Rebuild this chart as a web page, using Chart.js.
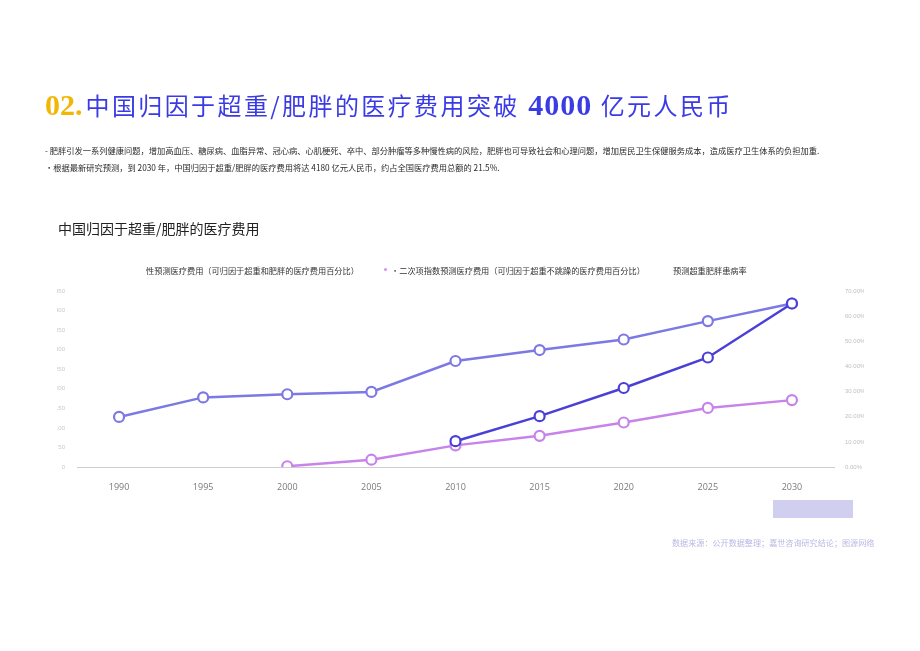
<!DOCTYPE html>
<html>
<head>
<meta charset="utf-8">
<script src="https://cdn.jsdelivr.net/npm/chart.js@4.4.0/dist/chart.umd.min.js"></script>
<style>
  html, body { margin: 0; padding: 0; background: #ffffff; }
  body { width: 920px; height: 651px; position: relative; overflow: hidden; font-family: "Noto Sans CJK SC", "Noto Sans", sans-serif; }
  #c { position: absolute; left: 0; top: 0; }
  .t { position: absolute; white-space: nowrap; }
  #title { left: 45px; top: 88px; height: 34px; line-height: 34px; }
  #title .num { font-family: "Liberation Serif", serif; font-weight: bold; color: #f2b705; font-size: 30px; margin-right: 3px; }
  #title .cn { color: #3b3be6; font-size: 24px; letter-spacing: 2.4px; }
  #title .big { font-family: "Liberation Serif", serif; font-weight: bold; color: #3b3be6; font-size: 30px; letter-spacing: 1px; }
  .sub { font-size: 8.25px; color: #2a2a2a; left: 45px; }
  #ctitle { left: 58px; top: 218px; font-size: 14px; color: #222; }
  .lg { font-size: 8.2px; color: #333; top: 264px; }
  #src { left: 672px; top: 537px; font-size: 8.1px; color: #b9b9e4; }
  #box { position: absolute; left: 773px; top: 500px; width: 80px; height: 18px; background: #d0cff0; }
  #dot { position: absolute; left: 384px; top: 268px; width: 3px; height: 3px; background: #d58ef0; border-radius: 50%; }
</style>
</head>
<body>
<canvas id="c" width="920" height="651"></canvas>
<div class="t" id="title"><span class="num">02.</span><span class="cn">中国归因于超重/肥胖的医疗费用突破</span><span class="big"> 4000 </span><span class="cn">亿元人民币</span></div>
<div class="t sub" style="top:144px;">- 肥胖引发一系列健康问题，增加高血压、糖尿病、血脂异常、冠心病、心肌梗死、卒中、部分肿瘤等多种慢性病的风险，肥胖也可导致社会和心理问题，增加居民卫生保健服务成本，造成医疗卫生体系的负担加重.</div>
<div class="t sub" style="top:161px;">•根据最新研究预测，到 2030 年，中国归因于超重/肥胖的医疗费用将达 4180 亿元人民币，约占全国医疗费用总额的 21.5%.</div>
<div class="t" id="ctitle">中国归因于超重/肥胖的医疗费用</div>
<div class="t lg" style="left:146px;">性预测医疗费用（可归因于超重和肥胖的医疗费用百分比）</div>
<div id="dot"></div>
<div class="t lg" style="left:391px;">•二次项指数预测医疗费用（可归因于超重不跳躁的医疗费用百分比）</div>
<div class="t lg" style="left:673px;">预测超重肥胖患病率</div>
<div id="box"></div>
<div class="t" id="src">数据来源：公开数据整理；嘉世咨询研究结论；图源网络</div>
<script>
const years = ['1990', '1995', '2000', '2005', '2010', '2015', '2020', '2025', '2030'];
const linearCost = [128, 178, 186, 192, 271, 299, 326, 373, 418];
const quadCost = [null, null, null, null, 66, 130, 202, 280, 418];
const prevalence = [null, null, 0.003, 0.029, 0.086, 0.124, 0.177, 0.235, 0.266];
const leftTicks = { min: 0, max: 450, step: 50 };
const rightTicks = { min: 0, max: 0.7, step: 0.1 };
const seriesNames = ['线性预测医疗费用', '二次项指数预测医疗费用', '预测超重肥胖患病率'];

function ds(label, data, color, axis, order) {
  return {
    label, data, yAxisID: axis, order,
    borderColor: color, backgroundColor: color,
    borderWidth: 2.5, tension: 0,
    pointRadius: 5, pointHoverRadius: 5,
    pointBackgroundColor: '#ffffff', pointBorderColor: color, pointBorderWidth: 2.2,
    spanGaps: false
  };
}

new Chart(document.getElementById('c'), {
  type: 'line',
  data: {
    labels: years,
    datasets: [
      ds(seriesNames[0], linearCost, '#7c78e4', 'y', 3),
      ds(seriesNames[2], prevalence, '#c883ea', 'y1', 2),
      ds(seriesNames[1], quadCost, '#4a3fd6', 'y', 1)
    ]
  },
  options: {
    responsive: false,
    animation: false,
    devicePixelRatio: 1,
    layout: { padding: { left: 57, right: 56, top: 291, bottom: 159 } },
    plugins: { legend: { display: false }, title: { display: false }, tooltip: { enabled: false } },
    scales: {
      x: {
        offset: true,
        grid: { display: false },
        border: { display: true, color: '#cdcdcd', width: 1 },
        ticks: { color: '#7a7a7a', font: { size: 9, family: 'Open Sans' }, padding: 7, maxRotation: 0 },
        afterFit: s => { s.height = 25; }
      },
      y: {
        position: 'left',
        min: leftTicks.min, max: leftTicks.max,
        grid: { display: false },
        border: { display: false },
        ticks: { stepSize: leftTicks.step, color: '#c9c9c9', font: { size: 6 }, padding: 4 },
        afterFit: s => { s.width = 20; }
      },
      y1: {
        position: 'right',
        min: rightTicks.min, max: rightTicks.max,
        grid: { display: false },
        border: { display: false },
        ticks: { stepSize: rightTicks.step, color: '#c0c0c0', font: { size: 6 }, padding: 3,
                 callback: v => (v * 100).toFixed(2) + '%' },
        afterFit: s => { s.width = 30; }
      }
    }
  }
});
</script>
</body>
</html>
